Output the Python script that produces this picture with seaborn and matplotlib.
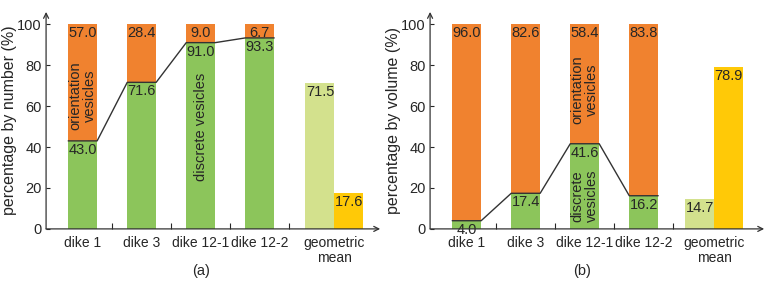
import matplotlib
matplotlib.use("Agg")
import matplotlib.pyplot as plt
from matplotlib.ticker import FixedLocator
import seaborn as sns

# values (percent)
dikes = ["dike 1", "dike 3", "dike 12-1", "dike 12-2"]
geo_label = "geometric\nmean"

num_discrete = [43.0, 71.6, 91.0, 93.3]
num_orient = [57.0, 28.4, 9.0, 6.7]
num_geo = [71.5, 17.6]  # discrete, orientation

vol_discrete = [4.0, 17.4, 41.6, 16.2]
vol_orient = [96.0, 82.6, 58.4, 83.8]
vol_geo = [14.7, 78.9]

ORANGE = "#F0822F"
GREEN = "#8CC55B"
LIGHT_GREEN = "#D3E18D"
YELLOW = "#FFC907"
INK = "#262626"
W = 0.49

sns.set_theme(style="white")
plt.rcParams["font.family"] = ["Liberation Sans", "DejaVu Sans"]
plt.rcParams["text.color"] = INK
plt.rcParams["axes.labelcolor"] = INK
plt.rcParams["xtick.color"] = INK
plt.rcParams["ytick.color"] = INK


def draw_panel(ax, discrete, orient, geo, geo_x, ylabel, notes):
    pos = list(range(len(discrete)))
    total = [d + o for d, o in zip(discrete, orient)]

    # full bars (orange) then discrete part (green) on top
    sns.barplot(x=pos, y=total, native_scale=True, width=W, color=ORANGE,
                saturation=1, errorbar=None, linewidth=0, ax=ax)
    sns.barplot(x=pos, y=discrete, native_scale=True, width=W, color=GREEN,
                saturation=1, errorbar=None, linewidth=0, ax=ax)
    for gx, gv, gc in zip(geo_x, geo, [LIGHT_GREEN, YELLOW]):
        sns.barplot(x=[gx], y=[gv], native_scale=True, width=W, color=gc,
                    saturation=1, errorbar=None, linewidth=0, ax=ax)

    # boundary line linking the discrete tops
    xs, ys = [], []
    for p, d in zip(pos, discrete):
        xs += [p - W / 2, p + W / 2]
        ys += [d, d]
    sns.lineplot(x=xs, y=ys, sort=False, estimator=None, color="#333333",
                 linewidth=1.0, ax=ax)

    # value labels
    for p, d, o, t in zip(pos, discrete, orient, total):
        ax.text(p, t - 1, f"{o:.1f}", ha="center", va="top", fontsize=10.5)
        ax.text(p, d - 1, f"{d:.1f}", ha="center", va="top", fontsize=10.5)
    for gx, gv in zip(geo_x, geo):
        ax.text(gx, gv - 1, f"{gv:.1f}", ha="center", va="top", fontsize=10.5)

    for x, y, s in notes:
        ax.text(x, y, s, rotation=90, ha="center", va="center",
                fontsize=10.5, linespacing=1.0)

    ax.set_xlim(-0.62, 5.04)
    ax.set_ylim(0, 106)
    ax.set_yticks(range(0, 101, 20))
    ax.xaxis.set_major_locator(FixedLocator(pos + [sum(geo_x) / 2]))
    ax.set_xticklabels(dikes + [geo_label], fontsize=10, linespacing=1.15)
    ax.xaxis.set_minor_locator(FixedLocator([p + 0.5 for p in pos]))
    ax.tick_params(axis="x", which="major", length=0, pad=5)
    ax.tick_params(axis="x", which="minor", direction="in", length=4,
                   width=0.8, bottom=True)
    ax.tick_params(axis="y", direction="in", length=3, width=0.8, left=True,
                   labelsize=10.5, pad=3)
    ax.set_ylabel(ylabel, fontsize=11.5, labelpad=0.5)
    ax.set_xlabel("")

    for side in ["top", "right", "left", "bottom"]:
        ax.spines[side].set_visible(False)
    arrow = dict(arrowstyle="->", color="#333333", lw=0.9,
                 shrinkA=0, shrinkB=0, mutation_scale=9)
    ax.annotate("", xy=(1, 0), xytext=(0, 0), xycoords="axes fraction",
                arrowprops=arrow)
    ax.annotate("", xy=(0, 1), xytext=(0, 0), xycoords="axes fraction",
                arrowprops=arrow)


fig = plt.figure(figsize=(7.68, 2.84), dpi=100)
ax_a = fig.add_axes([0.060, 0.194, 0.435, 0.764])
ax_b = fig.add_axes([0.560, 0.194, 0.435, 0.764])

draw_panel(ax_a, num_discrete, num_orient, num_geo, [4.02, 4.51],
           "percentage by number (%)",
           [(0, 65, "orientation\nvesicles"), (2, 50, "discrete vesicles")])
draw_panel(ax_b, vol_discrete, vol_orient, vol_geo, [3.95, 4.43],
           "percentage by volume (%)",
           [(2, 68, "orientation\nvesicles"), (2, 16, "discrete\nvesicles")])

fig.text(0.262, 0.045, "(a)", ha="center", va="center", fontsize=10.5)
fig.text(0.758, 0.045, "(b)", ha="center", va="center", fontsize=10.5)

fig.savefig("out.png", dpi=100)
